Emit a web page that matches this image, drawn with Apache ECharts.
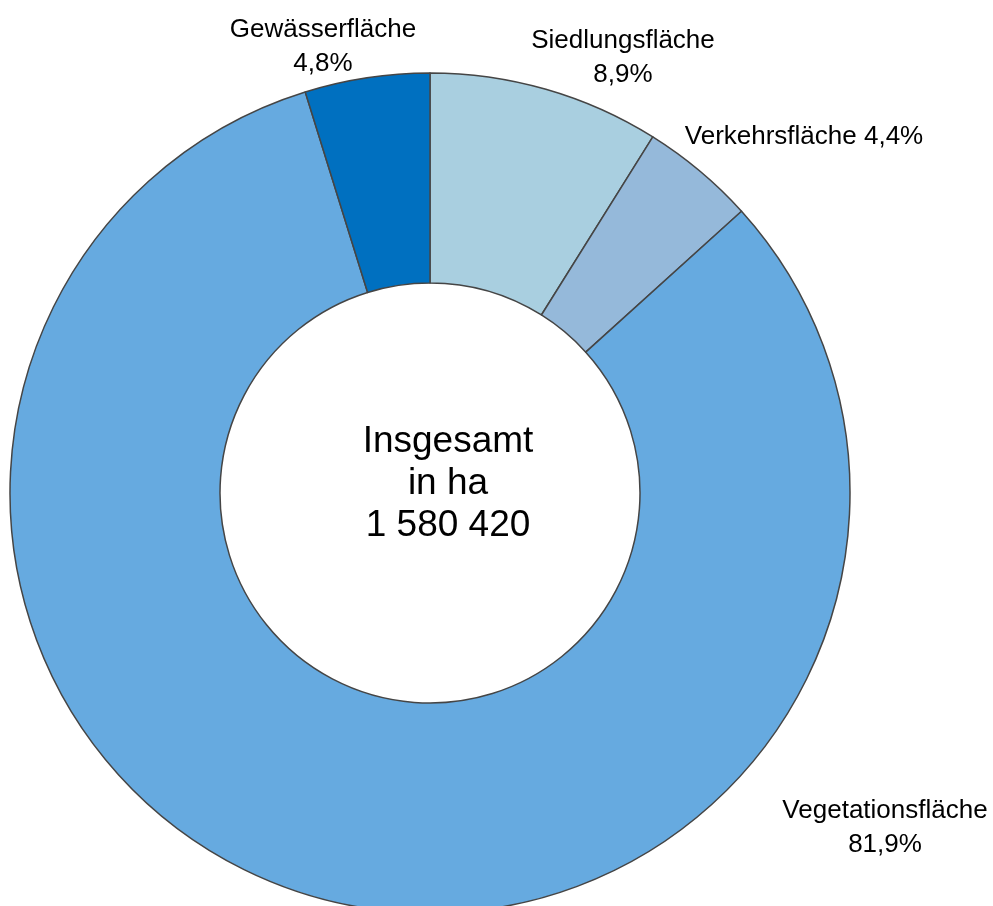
<!DOCTYPE html>
<html>
<head>
<meta charset="utf-8">
<title>Flächennutzung</title>
<style>
  html, body { margin: 0; padding: 0; background: #fff; }
  #main { width: 993px; height: 906px; }
</style>
<script src="https://cdn.jsdelivr.net/npm/echarts@6/dist/echarts.min.js"></script>
</head>
<body>
<div id="main"></div>
<script>
// Daten
var categories = ['Siedlungsfläche', 'Verkehrsfläche', 'Vegetationsfläche', 'Gewässerfläche'];
var shares = [8.9, 4.4, 81.9, 4.8];
var colors = ['#a9cfe0', '#95b9da', '#66aae0', '#0070c0'];
var totalLabel = ['Insgesamt', 'in ha', '1 580 420'];

// label positions (px) and whether the label is on one line
var labelPos = [[623, 58], [804, 137], [885, 828], [323, 47]];
var oneLine = [false, true, false, false];

var chart = echarts.init(document.getElementById('main'));

var data = categories.map(function (c, i) {
  return { name: c, value: shares[i], itemStyle: { color: colors[i] } };
});

function fmt(v) { return v.toFixed(1).replace('.', ','); }

chart.setOption({
  animation: false,
  series: [{
    type: 'pie',
    center: [430, 493],
    radius: [210, 420],
    startAngle: 90,
    clockwise: true,
    avoidLabelOverlap: false,
    itemStyle: { borderColor: '#454545', borderWidth: 1.5 },
    label: {
      show: true,
      position: 'outside',
      fontFamily: '"Liberation Sans", Arial, sans-serif',
      fontSize: 26,
      lineHeight: 34,
      color: '#000',
      align: 'center',
      formatter: function (p) {
        return oneLine[p.dataIndex] ? p.name + ' ' + fmt(p.value) + '%' : p.name + '\n' + fmt(p.value) + '%';
      }
    },
    labelLine: { show: false },
    labelLayout: function (p) {
      var pos = labelPos[p.dataIndex];
      return { x: pos[0], y: pos[1], align: 'center', verticalAlign: 'middle' };
    },
    emphasis: { disabled: true },
    data: data
  }],
  graphic: [{
    type: 'text',
    x: 448,
    y: 484,
    style: {
      text: totalLabel.join('\n'),
      font: '37px "Liberation Sans", Arial, sans-serif',
      lineHeight: 42,
      fill: '#000',
      textAlign: 'center',
      textVerticalAlign: 'middle'
    }
  }]
});
</script>
</body>
</html>
